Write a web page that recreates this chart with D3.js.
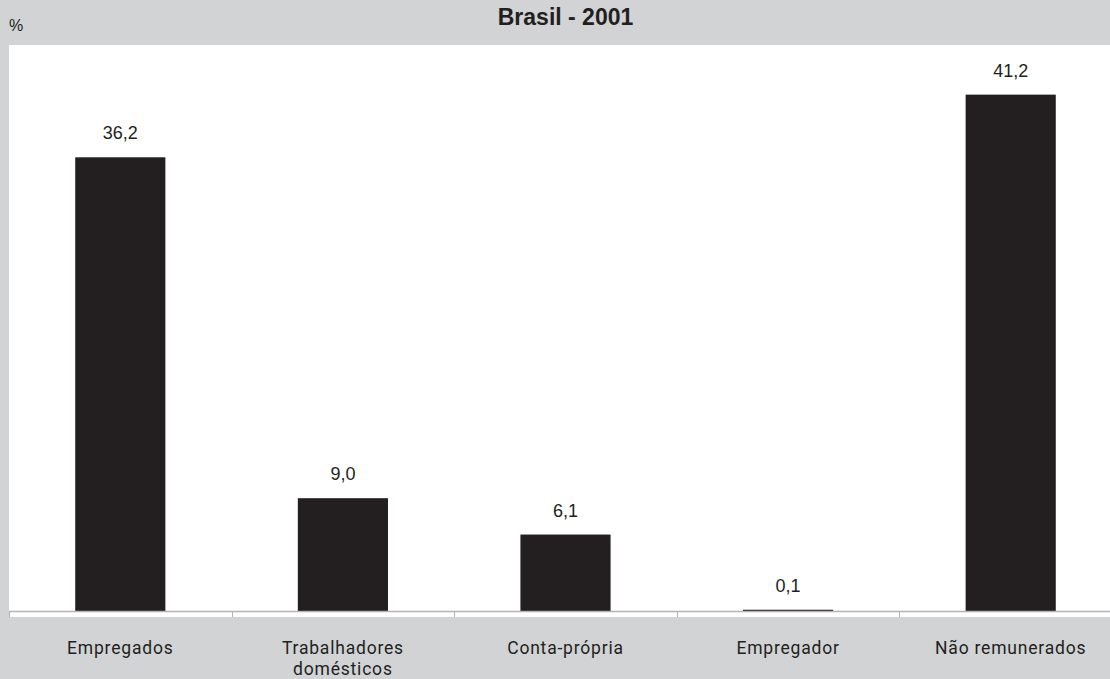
<!DOCTYPE html>
<html><head><meta charset="utf-8">
<script src="https://cdn.jsdelivr.net/npm/d3@7"></script>
<style>
html,body{margin:0;padding:0;background:#d1d3d4;overflow:hidden;}
svg{display:block;}
</style></head>
<body><svg id="c" width="1110" height="679"></svg>
<script>
const categories = ["Empregados", "Trabalhadores domésticos", "Conta-própria", "Empregador", "Não remunerados"];
const values = [36.2, 9.0, 6.1, 0.1, 41.2];
const valueLabels = ["36,2", "9,0", "6,1", "0,1", "41,2"];
const titleText = "Brasil - 2001";
const unitLabel = "%";

(function () {
const svg = d3.select("#c");
const W = 1110, H = 679;
const pLeft = 9, pRight = 1122, pTop = 45, base = 611;
const ink = "#231f20";

svg.append("rect").attr("width", W).attr("height", H).attr("fill", "#d1d3d4");
svg.append("rect").attr("x", pLeft).attr("y", pTop).attr("width", W - pLeft).attr("height", 617 - pTop).attr("fill", "#fff");

const x = d3.scaleBand().domain(categories).range([pLeft, pRight]).paddingInner(0.595).paddingOuter(0.2975);
const xDiv = d3.scaleBand().domain(categories).range([pLeft, pRight]);
const y = d3.scaleLinear().domain([0, 45]).range([base, 47]);

svg.append("g").selectAll("rect").data(categories).join("rect")
  .attr("x", d => x(d)).attr("width", x.bandwidth())
  .attr("y", (d, i) => y(values[i])).attr("height", (d, i) => base - y(values[i]))
  .attr("fill", ink);

svg.append("line").attr("x1", pLeft).attr("x2", W).attr("y1", base + 0.5).attr("y2", base + 0.5)
  .attr("stroke", "#b3b3b3").attr("stroke-width", 1.5);
svg.append("g").selectAll("line").data(categories).join("line")
  .attr("x1", d => Math.round(xDiv(d)) + 0.5).attr("x2", d => Math.round(xDiv(d)) + 0.5)
  .attr("y1", base).attr("y2", 617).attr("stroke", "#b3b3b3").attr("stroke-width", 1);

svg.append("g").selectAll("text").data(categories).join("text")
  .attr("x", d => x(d) + x.bandwidth() / 2)
  .attr("y", (d, i) => y(values[i]) - 18)
  .attr("text-anchor", "middle")
  .attr("font-family", "Liberation Sans, Arial, sans-serif")
  .attr("font-size", 18).attr("fill", ink)
  .text((d, i) => valueLabels[i]);

const catG = svg.append("g");
categories.forEach(c => {
  const cx = x(c) + x.bandwidth() / 2;
  const words = c === "Trabalhadores domésticos" ? ["Trabalhadores", "domésticos"] : [c];
  const t = catG.append("text").attr("text-anchor", "middle")
    .attr("font-family", "Roboto, Liberation Sans, sans-serif")
    .attr("font-size", 17.5).attr("letter-spacing", 0.8).attr("fill", ink);
  words.forEach((w, i) => t.append("tspan").attr("x", cx).attr("y", 654 + i * 21).text(w));
});

const tc = (pLeft + pRight) / 2;
svg.append("text").attr("x", tc).attr("y", 25).attr("text-anchor", "middle")
  .attr("font-family", "Liberation Sans, Arial, sans-serif").attr("font-weight", "bold")
  .attr("font-size", 23).attr("fill", ink).text(titleText);
svg.append("text").attr("x", 9).attr("y", 31)
  .attr("font-family", "Liberation Sans Narrow, Liberation Sans, sans-serif")
  .attr("font-size", 16).attr("fill", ink).text(unitLabel);
})();
</script></body></html>
